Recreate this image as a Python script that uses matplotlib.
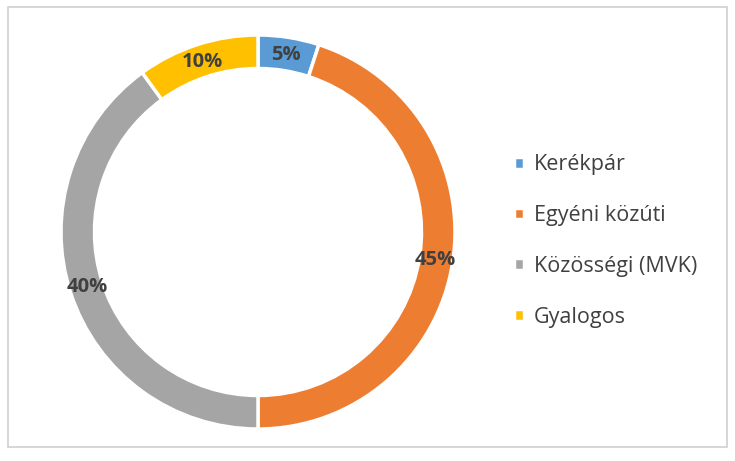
import matplotlib
matplotlib.use("Agg")
import matplotlib.pyplot as plt
from matplotlib.patches import Rectangle

plt.rcParams['font.family'] = ['Open Sans', 'DejaVu Sans']

labels = ['Kerékpár', 'Egyéni közúti', 'Közösségi (MVK)', 'Gyalogos']
values = [5, 45, 40, 10]
colors = ['#5B9BD5', '#ED7D31', '#A5A5A5', '#FFC000']

W, H = 735, 461
fig = plt.figure(figsize=(W / 100, H / 100), dpi=100)

# frame around the chart area
fig.patches.append(Rectangle((8 / W, 14 / H), 719 / W, 440 / H,
                             transform=fig.transFigure, fill=False,
                             edgecolor='#d0d0d0', linewidth=1.2))

cx, cy, r = 258, 232, 197
ax = fig.add_axes([(cx - r) / W, (H - cy - r) / H, 2 * r / W, 2 * r / H])

wedges, texts, autotexts = ax.pie(
    values, colors=colors, startangle=90, counterclock=False,
    autopct='%d%%', pctdistance=0.91, radius=1,
    wedgeprops=dict(width=0.17, edgecolor='white', linewidth=2.5),
    textprops=dict(fontsize=14.5, fontweight='bold', color='#404040'))
ax.set_xlim(-1, 1)
ax.set_ylim(-1, 1)
ax.set_aspect('equal')
ax.axis('off')

fig.legend(wedges, labels, loc='center left',
           bbox_to_anchor=(495 / W, (H - 241) / H),
           frameon=False, fontsize=15.5, labelcolor='#404040',
           handlelength=0.45, handleheight=0.45, handletextpad=0.45,
           labelspacing=1.38)

fig.savefig('out.png', dpi=100, facecolor='white')
